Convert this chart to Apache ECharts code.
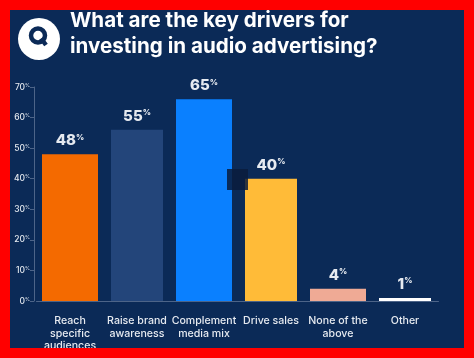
<!DOCTYPE html>
<html><head><meta charset="utf-8">
<style>html,body{margin:0;padding:0;background:#ff0000}#c{width:474px;height:358px}</style>
<script src="https://cdn.jsdelivr.net/npm/echarts@6/dist/echarts.min.js"></script>
</head><body><div id="c"></div>
<script>
const categories = ['Reach\nspecific\naudiences','Raise brand\nawareness','Complement\nmedia mix','Drive sales','None of the\nabove','Other'];
const printedLabels = [48,55,65,40,4,1];
const barValues = [48,56,66,40,4,1];
const barColors = ['#f46a00','#23457a','#0a80ff','#ffbb38','#efaa95','#ffffff'];
const titleLines = 'What are the key drivers for\ninvesting in audio advertising?';
const navy = '#0b2a57', ink = '#e6eaf0', faint = '#4d6488';
const font = 'Inter';

const chart = echarts.init(document.getElementById('c'), null, {renderer:'canvas'});
const pick = (keep) => barValues.map((v,i)=> keep(i) ? {value:v,itemStyle:{color:barColors[i]}} : null);
const barLabel = {
  show:true, position:'top', distance:6,
  formatter:(p)=>`{n|${printedLabels[p.dataIndex]}}{p|%}`,
  rich:{ n:{fontFamily:font,fontSize:15,fontWeight:800,color:ink}, p:{fontFamily:font,fontSize:8,fontWeight:800,color:ink,verticalAlign:'top',padding:[0,0,6,0]} }
};
chart.setOption({
  animation:false,
  backgroundColor:navy,
  grid:{left:36.5,top:87,width:402,height:214},
  xAxis:[
    {type:'category',data:categories,
    axisLine:{lineStyle:{color:faint,width:1}},axisTick:{show:false},
    axisLabel:{interval:0,margin:14,fontFamily:font,fontSize:10.6,fontWeight:500,color:ink,lineHeight:12.5,verticalAlign:'top'}},
    {type:'category',data:categories,show:false,position:'bottom'}
  ],
  yAxis:{type:'value',min:0,max:70,interval:10,offset:2.5,splitLine:{show:false},
    axisLine:{show:true,lineStyle:{color:faint,width:1}},
    axisTick:{show:true,length:4,lineStyle:{color:faint}},
    axisLabel:{margin:4,formatter:(v)=>`{n|${v}}{p|%}`,
      rich:{n:{fontFamily:font,fontSize:8.5,fontWeight:500,color:ink},p:{fontFamily:font,fontSize:5,color:ink,verticalAlign:'top'}}}},
  series:[
    {type:'bar',xAxisIndex:0,barWidth:56,data:pick(i=>i%2===0),label:barLabel},
    {type:'bar',xAxisIndex:1,barWidth:52,data:pick(i=>i%2===1),label:barLabel}
  ],
  graphic:[
    {type:'circle',shape:{cx:39,cy:39,r:21},style:{fill:'#ffffff'},z:10},
    {type:'circle',shape:{cx:38,cy:35.5,r:7},style:{fill:'#ffffff',stroke:navy,lineWidth:4.5},z:11},
    {type:'line',shape:{x1:41,y1:38.5,x2:46,y2:45},style:{stroke:navy,lineWidth:4.5},z:12},
    {type:'text',x:70,y:8,style:{text:titleLines,fontFamily:font,fontSize:20.6,fontWeight:700,fill:'#ffffff',lineHeight:26},z:10},
    {type:'rect',shape:{x:227,y:169,width:21,height:21},style:{fill:'#0a1c3c',opacity:0.85},z:20},
    {type:'rect',shape:{x:5,y:5,width:464,height:348},style:{fill:'none',stroke:'#ff0000',lineWidth:10},z:100}
  ]
});
</script></body></html>
